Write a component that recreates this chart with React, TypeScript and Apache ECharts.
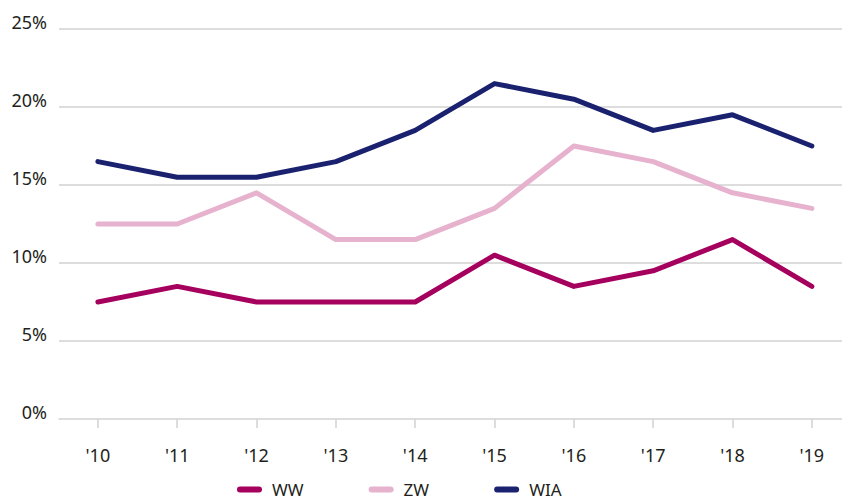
import React, { useEffect, useRef } from "react";
import * as echarts from "echarts";

const categories = ["'10", "'11", "'12", "'13", "'14", "'15", "'16", "'17", "'18", "'19"];
const seriesNames = ["WW", "ZW", "WIA"];
const wwValues = [7.5, 8.5, 7.5, 7.5, 7.5, 10.5, 8.5, 9.5, 11.5, 8.5];
const zwValues = [12.5, 12.5, 14.5, 11.5, 11.5, 13.5, 17.5, 16.5, 14.5, 13.5];
const wiaValues = [16.5, 15.5, 15.5, 16.5, 18.5, 21.5, 20.5, 18.5, 19.5, 17.5];
const yTicks = [0, 5, 10, 15, 20, 25];
const colors = ["#a6005f", "#e6b2ce", "#1a2270"];

const FONT = "'Noto Sans', Lato, sans-serif";
const TEXT = "#231f20";
const GRID = "#d2d2d2";

export default function App() {
  const ref = useRef<HTMLDivElement>(null);
  useEffect(() => {
    if (!ref.current) return;
    const chart = echarts.init(ref.current, undefined, { renderer: "svg" });
    const idx = categories.map((_, i) => i);
    const allValues = [wwValues, zwValues, wiaValues];
    chart.setOption({
      animation: false,
      textStyle: { fontFamily: FONT },
      grid: { left: 59, right: 0, top: 29, bottom: 82, containLabel: false },
      legend: {
        left: 237,
        top: 481,
        padding: 0,
        itemWidth: 25,
        itemHeight: 6,
        itemGap: 65,
        icon: "path://M3,0 L22,0 A3,3 0 0 1 22,6 L3,6 A3,3 0 0 1 3,0 Z",
        textStyle: { fontFamily: FONT, fontSize: 17, color: TEXT, padding: [0, 0, 0, 5] },
        data: seriesNames,
      },
      xAxis: {
        type: "value",
        min: -0.49,
        max: 9.38,
        offset: 8,
        axisLine: { show: true, lineStyle: { color: GRID, width: 1.5 } },
        axisTick: { show: true, customValues: idx, length: 9, lineStyle: { color: GRID, width: 1.5 } },
        axisLabel: {
          customValues: idx,
          formatter: (v: number) => categories[Math.round(v)] ?? "",
          fontFamily: FONT,
          fontSize: 18,
          color: TEXT,
          margin: 19,
        },
        splitLine: { show: false },
      },
      yAxis: {
        type: "value",
        min: 0,
        max: 25,
        interval: 5,
        axisLine: { show: false },
        axisTick: { show: false },
        axisLabel: {
          formatter: (v: number) => (yTicks.includes(v) ? v + "%" : ""),
          fontFamily: FONT,
          fontSize: 18,
          color: TEXT,
          margin: 12,
          verticalAlign: "bottom",
          lineHeight: 14,
        },
        splitLine: {
          show: true,
          lineStyle: { color: ["rgba(0,0,0,0)", GRID, GRID, GRID, GRID, GRID], width: 1.5 },
        },
      },
      series: seriesNames.map((name, s) => ({
        name,
        type: "line",
        data: idx.map((i) => [i, allValues[s][i]]),
        showSymbol: false,
        symbol: "none",
        color: colors[s],
        lineStyle: { width: 5, color: colors[s], cap: "round", join: "round" },
        z: 2 + (2 - s),
      })),
    });
    return () => chart.dispose();
  }, []);
  return (
    <div
      ref={ref}
      style={{ position: "fixed", left: 0, top: 0, width: 842, height: 501, background: "#fff" }}
    />
  );
}
